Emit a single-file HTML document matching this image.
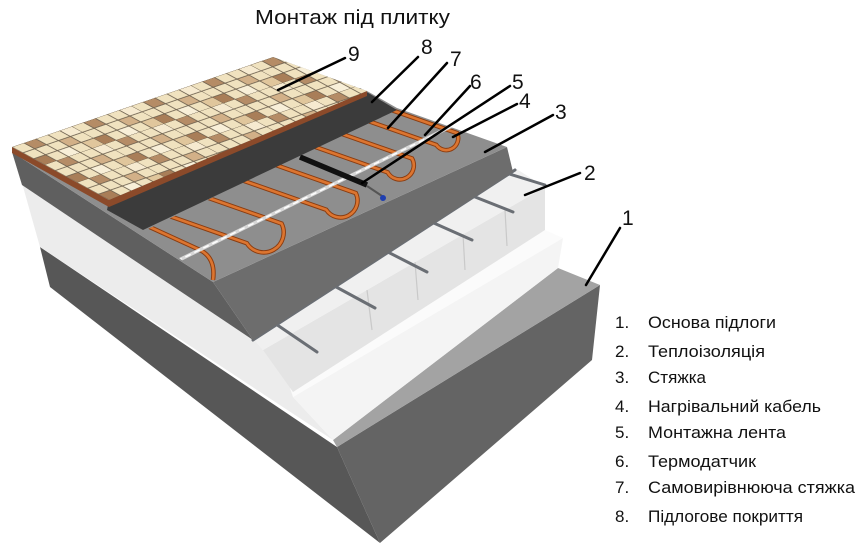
<!DOCTYPE html>
<html><head><meta charset="utf-8"><style>
html,body{margin:0;padding:0;background:#fff;}
svg{display:block;}
text{font-family:"Liberation Sans","DejaVu Sans",sans-serif;fill:#111;}
</style></head><body>
<svg width="861" height="560" viewBox="0 0 861 560" xmlns="http://www.w3.org/2000/svg">
<defs>
<pattern id="tiles" patternUnits="userSpaceOnUse" width="5" height="3" patternTransform="matrix(11.9,-4.1,10.8,5.9,12,147)">
<rect x="0" y="0" width="5" height="3" fill="#f0e2bf"/>
<rect x="1" y="0" width="1" height="1" fill="#b58c66"/>
<rect x="3" y="1" width="1" height="1" fill="#d2b088"/>
<rect x="0" y="2" width="1" height="1" fill="#a97e58"/>
<rect x="4" y="2" width="1" height="1" fill="#e0c69c"/>
<rect x="2" y="2" width="1" height="1" fill="#f8efd8"/>
<rect x="4" y="0" width="1" height="1" fill="#f6ead0"/>
<g stroke="#6f6250" stroke-width="0.09">
<line x1="0" y1="0" x2="5" y2="0"/><line x1="0" y1="1" x2="5" y2="1"/><line x1="0" y1="2" x2="5" y2="2"/>
<line x1="0" y1="0" x2="0" y2="3"/><line x1="1" y1="0" x2="1" y2="3"/><line x1="2" y1="0" x2="2" y2="3"/><line x1="3" y1="0" x2="3" y2="3"/><line x1="4" y1="0" x2="4" y2="3"/>
</g>
</pattern>
<clipPath id="scr"><polygon points="397,108 507,147 213,282 142,232"/></clipPath>
</defs>

<!-- base -->
<polygon points="40,247 337,447 380,543 50,287" fill="#575757"/>
<polygon points="337,447 600,285 592,360 380,543" fill="#646464"/>
<polygon points="333,440 558,268 600,285 337,447" fill="#a3a3a3"/>

<!-- insulation -->
<polygon points="22,183 253,338 263,350 290,360 293,397 333,440 40,247" fill="#ececec"/>
<polygon points="293,397 563,238 558,268 333,440" fill="#f4f4f4"/>
<polygon points="290,388 545,230 563,238 293,397" fill="#fbfbfb"/>
<polygon points="263,350 545,187 545,230 293,392" fill="#e4e4e4"/>
<g stroke="#c9c9c9" stroke-width="1.2">
<line x1="367" y1="290" x2="372" y2="330"/><line x1="415" y1="262" x2="418" y2="300"/>
<line x1="463" y1="234" x2="465" y2="270"/><line x1="505" y1="210" x2="507" y2="246"/>
</g>
<polygon points="253,338 515,168 545,187 263,350" fill="#f0f0f0"/>

<!-- rebar -->
<g stroke="#6a6e74" stroke-width="3" stroke-linecap="round">
<line x1="253" y1="340" x2="515" y2="170"/>
<line x1="267" y1="318" x2="317" y2="352"/>
<line x1="327" y1="282" x2="375" y2="308"/>
<line x1="380" y1="248" x2="427" y2="272"/>
<line x1="427" y1="220" x2="472" y2="240"/>
<line x1="465" y1="193" x2="513" y2="212"/>
<line x1="503" y1="172" x2="545" y2="185"/>
</g>

<!-- screed -->
<polygon points="12,152 213,282 253,340 22,185" fill="#5f5f5f"/>
<polygon points="213,282 507,147 513,172 253,340" fill="#6d6d6d"/>
<polygon points="12,152 273,57 367,91 397,108 507,147 213,282" fill="#8e8e8e"/>

<!-- cables -->
<g clip-path="url(#scr)" fill="none">
<g id="cab">
<path d="M316.1,83.6 L457.1,133.1 A12,12 0 0 1 436.3,144.9 L295.3,95.4"/>
<path d="M271,109 L412.0,158.5 A14,14 0 0 1 387.6,172.3 L246.6,122.8"/>
<path d="M214.8,143.6 L355.8,193.1 A17,17 0 0 1 326.2,209.7 L185.2,160.2"/>
<path d="M140.6,174.1 L281.6,223.6 A20,20 0 0 1 246.8,243.2 L105.8,193.7"/>
<path d="M60,186 L200,250 Q216,258 213,280"/>
</g>
</g>
<g clip-path="url(#scr)" fill="none" stroke="#8a3c10" stroke-width="4.5"><use href="#cab"/></g>
<g clip-path="url(#scr)" fill="none" stroke="#dc7530" stroke-width="2.6"><use href="#cab"/></g>
<g clip-path="url(#scr)">
<line x1="460" y1="122" x2="175" y2="262" stroke="#d8d8d8" stroke-width="3.5"/>
<line x1="460" y1="122" x2="175" y2="262" stroke="#ffffff" stroke-width="1.5" stroke-dasharray="6 4"/>
</g>

<!-- sensor -->
<line x1="300" y1="157" x2="367" y2="185" stroke="#111" stroke-width="5.5"/>
<line x1="367" y1="186" x2="382" y2="196" stroke="#555" stroke-width="2"/>
<circle cx="383" cy="198" r="3" fill="#1f3fb0"/>

<!-- dark band -->
<polygon points="360,88 397,110 143,230 107,210 109,200" fill="#3b3b3b"/>

<!-- tiles -->
<polygon points="12,147 109,200 367,91 367,96 109,207 12,153" fill="#8b4a2a"/>
<polygon points="12,147 273,57 367,91 109,200" fill="url(#tiles)"/>

<!-- title -->
<text x="255" y="24" font-size="20" textLength="195" lengthAdjust="spacingAndGlyphs">Монтаж під плитку</text>

<!-- leader lines -->
<g stroke="#000" stroke-width="2.5" stroke-linecap="round">
<line x1="345" y1="58" x2="278" y2="90"/>
<line x1="418" y1="57" x2="372" y2="102"/>
<line x1="447" y1="63" x2="388" y2="128"/>
<line x1="470" y1="86" x2="425" y2="135"/>
<line x1="510" y1="86" x2="362" y2="183"/>
<line x1="517" y1="104" x2="453" y2="137"/>
<line x1="553" y1="115" x2="485" y2="152"/>
<line x1="580" y1="173" x2="525" y2="195"/>
<line x1="620" y1="228" x2="586" y2="285"/>
</g>
<g font-size="21">
<text x="348" y="61">9</text>
<text x="421" y="54">8</text>
<text x="450" y="66">7</text>
<text x="470" y="89">6</text>
<text x="512" y="89">5</text>
<text x="519" y="108">4</text>
<text x="555" y="119">3</text>
<text x="584" y="180">2</text>
<text x="622" y="225">1</text>
</g>

<!-- legend -->
<g font-size="17">
<text x="615" y="328">1.</text><text x="648" y="328" textLength="128" lengthAdjust="spacingAndGlyphs">Основа підлоги</text>
<text x="615" y="357">2.</text><text x="648" y="357" textLength="117" lengthAdjust="spacingAndGlyphs">Теплоізоляція</text>
<text x="615" y="383">3.</text><text x="648" y="383" textLength="58" lengthAdjust="spacingAndGlyphs">Стяжка</text>
<text x="615" y="412">4.</text><text x="648" y="412" textLength="173" lengthAdjust="spacingAndGlyphs">Нагрівальний кабель</text>
<text x="615" y="438">5.</text><text x="648" y="438" textLength="138" lengthAdjust="spacingAndGlyphs">Монтажна лента</text>
<text x="615" y="467">6.</text><text x="648" y="467" textLength="108" lengthAdjust="spacingAndGlyphs">Термодатчик</text>
<text x="615" y="493">7.</text><text x="648" y="493" textLength="207" lengthAdjust="spacingAndGlyphs">Самовирівнююча стяжка</text>
<text x="615" y="522">8.</text><text x="648" y="522" textLength="155" lengthAdjust="spacingAndGlyphs">Підлогове покриття</text>
</g>
</svg>
</body></html>
